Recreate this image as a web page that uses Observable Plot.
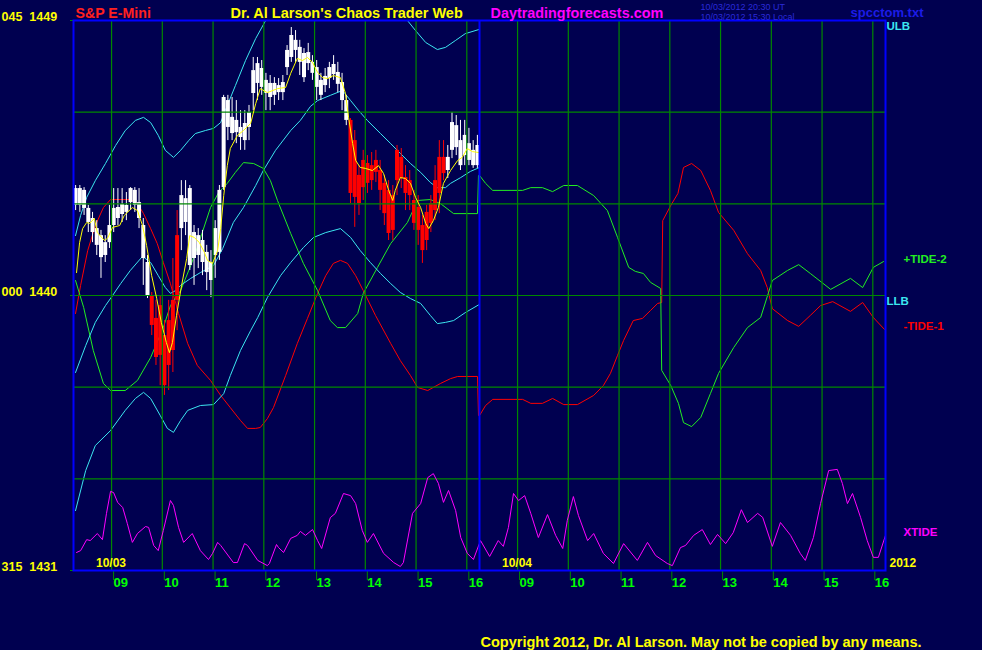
<!DOCTYPE html>
<html><head><meta charset="utf-8">
<script src="https://cdn.jsdelivr.net/npm/d3@7"></script>
<script src="https://cdn.jsdelivr.net/npm/@observablehq/plot@0.6"></script>
<style>
html,body{margin:0;padding:0;background:#000050;}
#chart{width:982px;height:650px;overflow:hidden;}
</style></head><body><div id="chart"></div>
<script>
// ---------- axis / tick data ----------
const xTicks = [9,10,11,12,13,14,15,16,17,18,19,20,21,22,23,24];
const hourLabels = ["09","10","11","12","13","14","15","16","09","10","11","12","13","14","15","16"];
const gridPrices = [1434,1437,1440,1443,1446];
const yTicks = [1431,1440,1449];
const yDegLabels = ["315","000","045"];
const dayStarts = [8.25,16.25];
const dayLabels = ["10/03","10/04"];
const yearLabel = "2012";

// ---------- 5-minute bars, day 1 (08:15-16:15) ----------
const barOpen = [1442.95,1442.95,1442.85,1442.39,1442.06,1441.64,1441.24,1441.31,1441.73,1442.29,1442.52,1442.65,1442.72,1443.04,1442.95,1442.52,1441.21,1440.00,1440.00,1439.25,1439.67,1438.69,1439.18,1439.84,1441.96,1442.19,1442.39,1440.98,1441.21,1441.31,1441.08,1440.75,1440.49,1441.31,1441.41,1443.53,1445.50,1445.30,1445.33,1445.17,1445.07,1445.50,1446.61,1446.94,1446.81,1446.61,1446.48,1446.55,1446.64,1446.64,1447.46,1447.79,1448.02,1447.63,1447.13,1447.59,1447.27,1446.81,1446.55,1446.87,1447.10,1447.23,1446.91,1446.38,1445.73,1445.73,1445.07,1443.93,1444.42,1444.32,1444.25,1444.42,1444.09,1443.67,1443.44,1443.27,1444.75,1444.52,1443.86,1443.76,1443.11,1442.88,1442.29,1442.72,1443.01,1443.76,1444.52,1444.52,1444.09,1444.75,1444.84,1444.25,1444.58,1444.42,1444.25,1444.25];
const barHigh = [1443.60,1443.60,1443.53,1442.95,1442.72,1442.45,1442.13,1441.96,1442.95,1443.50,1443.50,1443.50,1443.37,1443.53,1443.53,1443.50,1442.52,1441.31,1440.10,1439.84,1440.00,1439.18,1439.84,1441.21,1442.78,1443.76,1443.76,1443.60,1442.29,1442.19,1442.13,1441.64,1441.47,1442.45,1443.60,1446.55,1446.55,1446.48,1446.38,1446.05,1446.05,1446.22,1447.79,1447.79,1447.69,1447.27,1447.20,1447.13,1447.10,1447.20,1448.18,1448.77,1448.67,1448.35,1448.08,1448.25,1447.85,1447.69,1447.27,1447.43,1447.63,1447.85,1447.63,1447.27,1446.55,1445.79,1445.40,1444.25,1444.75,1444.58,1444.68,1444.75,1444.42,1443.93,1443.76,1443.60,1444.91,1444.81,1444.25,1444.09,1443.44,1443.27,1442.62,1442.95,1443.27,1444.25,1445.07,1445.07,1444.91,1445.99,1445.89,1445.73,1445.73,1445.47,1445.07,1445.24];
const barLow = [1442.78,1442.72,1442.62,1442.06,1441.73,1441.31,1440.56,1441.08,1441.54,1442.06,1442.29,1442.39,1442.45,1442.78,1442.72,1442.19,1440.33,1439.90,1438.69,1437.71,1437.05,1436.73,1436.89,1437.48,1438.85,1441.47,1441.96,1440.82,1440.33,1440.88,1440.65,1440.16,1439.93,1440.56,1441.15,1443.44,1445.07,1445.07,1444.97,1444.75,1444.75,1445.07,1446.05,1446.38,1446.55,1446.05,1446.05,1446.22,1446.38,1446.38,1447.20,1447.63,1447.63,1447.20,1446.97,1447.36,1447.04,1446.38,1446.38,1446.64,1446.77,1447.04,1446.64,1446.05,1445.56,1443.01,1442.23,1442.62,1443.11,1443.34,1443.44,1443.70,1442.78,1442.29,1441.80,1441.80,1443.27,1443.50,1442.78,1442.78,1442.13,1441.64,1441.05,1441.47,1442.06,1442.45,1442.68,1443.76,1443.83,1444.48,1444.58,1444.09,1444.25,1444.25,1444.16,1444.16];
const barClose = [1443.50,1443.50,1443.44,1442.85,1442.52,1442.19,1441.96,1441.73,1442.29,1442.85,1442.88,1442.98,1442.95,1443.50,1443.44,1443.04,1442.29,1441.08,1439.02,1437.97,1438.04,1437.05,1437.71,1438.20,1439.84,1443.27,1443.17,1443.50,1442.06,1441.96,1441.80,1441.41,1441.08,1442.19,1443.44,1446.48,1446.38,1445.83,1445.73,1445.50,1445.63,1445.99,1447.36,1447.59,1447.43,1447.04,1446.94,1446.94,1446.87,1446.97,1448.02,1448.51,1448.35,1448.12,1447.92,1447.95,1447.63,1447.46,1447.04,1447.17,1447.46,1447.56,1447.30,1446.97,1446.38,1443.34,1443.21,1443.01,1443.53,1443.67,1443.76,1444.03,1443.44,1442.68,1442.03,1442.13,1443.76,1443.83,1443.34,1443.27,1442.36,1442.13,1441.47,1441.80,1442.36,1442.78,1443.34,1443.99,1444.52,1445.66,1445.56,1445.07,1445.24,1444.97,1444.75,1444.91];

// ---------- series: [hour, value]  (day 2 hours continue as 16.25 + ...) ----------
const priceAvg = [[8.31,1440.75],[8.37,1441.73],[8.43,1442.19],[8.51,1442.39],[8.57,1442.36],[8.66,1442.52],[8.72,1442.06],[8.86,1441.80],[8.92,1441.87],[9.02,1442.23],[9.16,1442.29],[9.25,1442.62],[9.41,1442.88],[9.51,1442.78],[9.61,1442.29],[9.69,1441.64],[9.79,1440.65],[9.89,1439.90],[9.98,1439.12],[10.08,1438.46],[10.14,1438.13],[10.20,1438.46],[10.28,1439.35],[10.38,1440.33],[10.48,1441.21],[10.54,1441.96],[10.63,1441.90],[10.73,1441.73],[10.83,1441.41],[10.89,1441.15],[10.99,1441.05],[11.09,1441.47],[11.15,1442.19],[11.21,1443.27],[11.28,1444.25],[11.34,1444.81],[11.48,1445.24],[11.60,1445.40],[11.74,1445.63],[11.84,1446.28],[11.93,1446.77],[12.07,1446.64],[12.27,1446.77],[12.43,1446.81],[12.53,1447.27],[12.66,1447.76],[12.76,1447.69],[12.86,1447.79],[12.96,1447.63],[13.06,1447.30],[13.16,1447.13],[13.26,1447.10],[13.37,1447.20],[13.51,1447.13],[13.61,1446.61],[13.67,1445.83],[13.75,1444.97],[13.81,1444.42],[13.90,1444.19],[14.00,1444.16],[14.14,1444.09],[14.26,1444.25],[14.36,1443.99],[14.46,1443.44],[14.54,1443.11],[14.59,1443.44],[14.69,1443.86],[14.79,1443.83],[14.89,1443.67],[14.99,1443.21],[15.09,1442.88],[15.19,1442.36],[15.25,1442.19],[15.34,1442.45],[15.44,1442.88],[15.54,1443.67],[15.68,1444.09],[15.82,1444.42],[15.91,1444.52],[16.01,1444.81],[16.11,1444.71],[16.23,1444.68]];

const ulb = [[8.29,1441.96],[8.39,1442.62],[8.51,1443.21],[8.68,1443.76],[8.88,1444.32],[9.08,1444.91],[9.27,1445.40],[9.47,1445.73],[9.63,1445.83],[9.77,1445.66],[9.92,1445.24],[10.06,1444.75],[10.22,1444.52],[10.36,1444.75],[10.52,1445.07],[10.65,1445.30],[10.85,1445.40],[11.01,1445.47],[11.15,1445.66],[11.24,1446.05],[11.44,1446.87],[11.64,1447.69],[11.84,1448.41],[12.09,1449.16],[12.53,1450.64],[13.31,1451.13],[14.10,1450.64],[14.69,1449.49],[14.83,1449.00],[14.99,1448.67],[15.19,1448.28],[15.42,1448.05],[15.58,1448.12],[15.78,1448.35],[15.97,1448.57],[16.25,1448.71]];

const midBand = [[8.29,1437.48],[8.49,1438.36],[8.68,1439.12],[8.88,1439.67],[9.02,1440.00],[9.18,1440.39],[9.37,1440.82],[9.61,1441.28],[9.77,1441.08],[9.92,1440.65],[10.06,1440.26],[10.16,1440.07],[10.26,1440.16],[10.36,1440.33],[10.56,1440.56],[10.75,1440.75],[11.01,1440.98],[11.19,1441.54],[11.40,1442.39],[11.60,1442.88],[11.84,1443.60],[11.99,1444.09],[12.23,1444.75],[12.53,1445.40],[12.72,1445.73],[12.92,1446.19],[13.06,1446.38],[13.31,1446.55],[13.55,1446.71],[13.71,1446.38],[13.87,1446.05],[14.04,1445.73],[14.30,1445.30],[14.50,1444.97],[14.69,1444.65],[14.89,1444.32],[15.09,1444.03],[15.28,1443.70],[15.42,1443.53],[15.58,1443.53],[15.68,1443.67],[15.88,1443.86],[16.07,1444.06],[16.25,1444.19]];

const llb = [[8.29,1432.96],[8.49,1434.27],[8.68,1435.09],[8.98,1435.58],[9.27,1436.24],[9.47,1436.63],[9.63,1436.83],[9.77,1436.63],[9.96,1436.07],[10.10,1435.65],[10.22,1435.52],[10.36,1435.91],[10.50,1436.24],[10.75,1436.40],[11.01,1436.43],[11.21,1436.79],[11.34,1437.38],[11.54,1438.20],[11.74,1438.85],[11.88,1439.28],[12.07,1439.93],[12.33,1440.65],[12.53,1441.08],[12.78,1441.57],[12.98,1441.90],[13.22,1442.06],[13.51,1442.19],[13.71,1441.90],[13.90,1441.47],[14.10,1441.08],[14.30,1440.72],[14.50,1440.39],[14.69,1440.10],[14.89,1439.90],[15.09,1439.74],[15.28,1439.35],[15.42,1439.08],[15.58,1439.12],[15.74,1439.18],[15.97,1439.44],[16.25,1439.71]];

const tide1 = [[8.29,1439.41],[8.39,1440.33],[8.53,1441.47],[8.68,1442.29],[8.84,1442.88],[8.98,1443.14],[9.37,1443.14],[9.51,1443.01],[9.63,1442.68],[9.77,1442.19],[9.90,1441.70],[10.02,1441.08],[10.16,1440.39],[10.32,1439.41],[10.50,1438.43],[10.69,1437.71],[10.95,1437.22],[11.15,1436.73],[11.34,1436.33],[11.54,1435.91],[11.68,1435.65],[11.84,1435.65],[11.93,1435.68],[12.07,1435.97],[12.19,1436.33],[12.43,1437.38],[12.66,1438.43],[12.86,1439.25],[13.06,1440.07],[13.22,1440.65],[13.37,1441.05],[13.51,1441.15],[13.65,1441.05],[13.81,1440.65],[13.96,1440.16],[14.20,1439.35],[14.50,1438.43],[14.69,1437.87],[14.89,1437.38],[15.03,1436.99],[15.23,1436.89],[15.48,1437.12],[15.68,1437.28],[15.82,1437.35],[16.21,1437.35],[16.23,1436.07],[16.25,1436.07],[16.37,1436.40],[16.51,1436.60],[17.10,1436.60],[17.26,1436.47],[17.49,1436.47],[17.69,1436.63],[17.91,1436.43],[18.18,1436.43],[18.50,1436.73],[18.69,1437.05],[18.83,1437.45],[18.97,1438.04],[19.09,1438.53],[19.28,1439.18],[19.46,1439.25],[19.62,1439.51],[19.76,1439.74],[19.84,1439.77],[19.86,1442.45],[20.02,1442.95],[20.16,1443.34],[20.27,1444.19],[20.43,1444.32],[20.61,1444.09],[20.80,1443.44],[20.96,1442.72],[21.26,1442.13],[21.53,1441.37],[21.79,1440.82],[21.92,1440.26],[22.02,1439.57],[22.32,1439.18],[22.54,1438.99],[22.77,1439.35],[22.97,1439.67],[23.21,1439.80],[23.56,1439.48],[23.80,1439.77],[24.01,1439.28],[24.23,1438.89]];

const tide2 = [[8.29,1440.49],[8.45,1439.61],[8.64,1438.20],[8.84,1437.12],[8.98,1436.89],[9.27,1436.89],[9.51,1437.22],[9.77,1437.97],[10.02,1438.95],[10.16,1439.67],[10.36,1440.16],[10.56,1440.98],[10.69,1441.57],[10.95,1442.88],[11.11,1443.37],[11.28,1443.67],[11.44,1444.03],[11.60,1444.35],[11.80,1444.32],[11.99,1444.16],[12.13,1443.76],[12.27,1443.11],[12.53,1442.03],[12.78,1441.05],[13.06,1440.16],[13.31,1439.18],[13.45,1438.95],[13.61,1438.95],[13.85,1439.41],[13.96,1440.07],[14.24,1440.92],[14.50,1441.70],[14.83,1442.39],[15.03,1443.11],[15.28,1443.14],[15.48,1443.01],[15.74,1442.68],[16.21,1442.68],[16.23,1443.93],[16.25,1443.93],[16.37,1443.67],[16.51,1443.44],[17.10,1443.44],[17.26,1443.53],[17.49,1443.53],[17.69,1443.40],[17.91,1443.60],[18.18,1443.60],[18.50,1443.27],[18.77,1442.78],[18.97,1441.90],[19.19,1440.92],[19.32,1440.79],[19.48,1440.72],[19.62,1440.43],[19.82,1440.23],[19.84,1437.55],[20.02,1437.05],[20.17,1436.47],[20.27,1435.84],[20.43,1435.71],[20.61,1436.01],[20.80,1436.79],[20.96,1437.45],[21.26,1438.30],[21.53,1438.95],[21.79,1439.28],[21.94,1440.07],[22.02,1440.49],[22.32,1440.82],[22.54,1441.01],[22.77,1440.72],[23.17,1440.20],[23.56,1440.56],[23.80,1440.26],[24.01,1440.92],[24.21,1441.11]];

const xtide = [[8.31,1431.59],[8.39,1431.65],[8.51,1432.01],[8.58,1431.98],[8.72,1432.21],[8.82,1432.01],[8.90,1432.87],[8.98,1433.59],[9.04,1433.55],[9.12,1433.23],[9.22,1433.06],[9.31,1432.54],[9.41,1431.92],[9.51,1432.21],[9.67,1432.44],[9.73,1432.41],[9.83,1431.82],[9.92,1431.65],[10.02,1432.31],[10.16,1433.29],[10.22,1433.13],[10.32,1432.41],[10.42,1431.92],[10.59,1432.21],[10.75,1431.65],[10.91,1431.36],[10.99,1431.56],[11.09,1431.92],[11.15,1431.82],[11.40,1431.26],[11.48,1431.26],[11.62,1431.88],[11.68,1431.82],[11.88,1431.33],[12.07,1431.16],[12.11,1431.23],[12.25,1431.85],[12.29,1431.75],[12.39,1431.59],[12.53,1432.05],[12.66,1432.15],[12.72,1432.28],[12.82,1432.15],[12.96,1432.34],[13.06,1431.98],[13.14,1431.72],[13.31,1432.73],[13.41,1432.87],[13.57,1433.52],[13.71,1433.45],[13.81,1433.19],[13.94,1432.31],[14.04,1431.92],[14.16,1432.21],[14.36,1431.56],[14.56,1431.26],[14.69,1431.13],[14.75,1431.26],[14.93,1432.87],[15.09,1433.19],[15.23,1434.04],[15.34,1434.17],[15.44,1433.85],[15.54,1433.23],[15.64,1433.62],[15.78,1432.96],[15.88,1432.08],[16.01,1431.56],[16.13,1431.36],[16.27,1431.98],[16.45,1431.46],[16.62,1431.98],[16.72,1431.79],[16.82,1432.41],[16.92,1433.52],[17.02,1433.29],[17.14,1433.45],[17.26,1432.87],[17.41,1432.08],[17.59,1432.83],[17.75,1432.15],[17.89,1431.72],[17.98,1432.64],[18.10,1433.42],[18.20,1432.80],[18.38,1431.98],[18.50,1432.21],[18.69,1431.56],[18.89,1431.23],[19.09,1431.88],[19.36,1431.33],[19.56,1431.92],[19.72,1431.49],[19.95,1431.23],[20.05,1431.16],[20.21,1431.75],[20.31,1431.82],[20.47,1432.15],[20.64,1432.34],[20.80,1431.85],[20.94,1432.18],[21.10,1431.88],[21.25,1432.24],[21.41,1432.99],[21.53,1432.57],[21.73,1432.87],[21.83,1432.74],[22.02,1431.79],[22.18,1432.57],[22.38,1432.15],[22.57,1431.56],[22.67,1431.33],[22.83,1432.08],[22.97,1433.19],[23.13,1434.27],[23.30,1434.31],[23.40,1433.85],[23.50,1433.19],[23.60,1433.52],[23.76,1432.73],[23.89,1431.98],[24.01,1431.43],[24.11,1431.43],[24.25,1432.15]];

// ---------- styling ----------
const BG = "#000050", GRID = "#008800", FRAME = "#0000ff";
const CYAN = "#3ce6f0", RED = "#ff0000", GREEN = "#22ee22", MAG = "#ff00ff", YEL = "#ffff00";
const FONT = "'Liberation Sans', Arial, sans-serif";

const bars = barOpen.map((o, i) => ({
  t: 8.25 + (i + 0.5) / 12, open: o, close: barClose[i], high: barHigh[i], low: barLow[i]
}));
const barColor = d => d.close >= d.open ? "#ffffff" : RED;

const seriesLabel = (series, text, fill, dx) =>
  Plot.text([series[series.length - 1]], {
    y: d => d[1], frameAnchor: "right", text: () => text, fill, dx, dy: 1,
    textAnchor: "start", lineAnchor: "bottom", fontSize: 11.5, fontWeight: "bold"
  });

const titleText = (text, fill, dx, dy, size, weight = "bold", anchor = "top-left") =>
  Plot.text([text], {
    text: d => d, frameAnchor: anchor, fill, dx, dy, fontSize: size, fontWeight: weight,
    textAnchor: "start", lineAnchor: "bottom"
  });

const chart = Plot.plot({
  width: 982, height: 650,
  marginTop: 20, marginBottom: 80, marginLeft: 73, marginRight: 97,
  style: {background: BG, fontFamily: FONT, overflow: "visible"},
  x: {domain: [8.25, 24.25], axis: null},
  y: {domain: [1431, 1449], axis: null},
  color: {type: "identity"},
  marks: [
    // tides
    Plot.line(tide1, {x: d => d[0], y: d => d[1], stroke: RED, strokeWidth: 1}),
    Plot.line(tide2, {x: d => d[0], y: d => d[1], stroke: GREEN, strokeWidth: 1}),
    // bands
    Plot.line(ulb, {x: d => d[0], y: d => d[1], stroke: CYAN, strokeWidth: 1, clip: true}),
    Plot.line(midBand, {x: d => d[0], y: d => d[1], stroke: CYAN, strokeWidth: 1}),
    Plot.line(llb, {x: d => d[0], y: d => d[1], stroke: CYAN, strokeWidth: 1}),
    // bars
    Plot.ruleX(bars, {x: "t", y1: "low", y2: "high", stroke: barColor, strokeWidth: 1}),
    Plot.ruleX(bars, {x: "t", y1: "open", y2: "close", stroke: barColor, strokeWidth: 4}),
    // grid over the bars
    Plot.gridY(gridPrices, {stroke: GRID, strokeOpacity: 1, strokeWidth: 1.2}),
    Plot.gridX(xTicks, {stroke: GRID, strokeOpacity: 1, strokeWidth: 1.2}),
    Plot.axisX(xTicks, {
      anchor: "bottom", tickSize: 10, tickPadding: -3, stroke: GRID, fill: "#00ff00",
      tickFormat: d => hourLabels[xTicks.indexOf(d)], textAnchor: "start", dx: 2,
      fontSize: 13, fontWeight: "bold", label: null
    }),
    Plot.axisY(yTicks, {anchor: "left", tickSize: 3, stroke: GRID, tickFormat: () => "", label: null}),
    Plot.text(yTicks, {
      y: d => d, text: (d) => yDegLabels[yTicks.indexOf(d)] + "\u00a0\u00a0" + d,
      frameAnchor: "left", dx: -72, textAnchor: "start", lineAnchor: "bottom",
      fill: YEL, fontSize: 12.5, fontWeight: "bold"
    }),
    // average
    Plot.line(priceAvg, {x: d => d[0], y: d => d[1], stroke: YEL, strokeWidth: 1}),
    // xtide
    Plot.line(xtide, {x: d => d[0], y: d => d[1], stroke: MAG, strokeWidth: 1}),
    // frame and day divider
    Plot.ruleX([dayStarts[1]], {stroke: FRAME, strokeWidth: 2}),
    Plot.frame({stroke: FRAME, strokeWidth: 2}),
    // series labels
    seriesLabel(ulb, "ULB", CYAN, 1),
    seriesLabel(tide2, "+TIDE-2", GREEN, 18),
    seriesLabel(llb, "LLB", CYAN, 1),
    seriesLabel(tide1, "-TIDE-1", RED, 18),
    seriesLabel(xtide, "XTIDE", MAG, 18),
    // date labels
    Plot.text(dayStarts, {x: d => d, text: (d) => dayLabels[dayStarts.indexOf(d)], frameAnchor: "bottom",
      dx: 22.5, dy: -4, textAnchor: "start", lineAnchor: "bottom", fill: YEL, fontSize: 12, fontWeight: "bold"}),
    titleText(yearLabel, YEL, 4, -4, 12, "bold", "bottom-right"),
    // titles
    titleText("S&P E-Mini", "#ff2020", 2, -3, 14.2),
    titleText("Dr. Al Larson's Chaos Trader Web", YEL, 157, -3, 14.5),
    titleText("Daytradingforecasts.com", MAG, 417, -3, 14.4),
    titleText("10/03/2012 20:30 UT", "#2a2ad8", 627, -10.5, 9, "normal"),
    titleText("10/03/2012 15:30 Local", "#2a2ad8", 627, -1, 9, "normal"),
    titleText("spcctom.txt", "#1c1ce6", 777, -4, 13),
    titleText("Copyright 2012, Dr. Al Larson. May not be copied by any means.", YEL, 407, 76, 14.5, "bold", "bottom-left")
  ]
});
document.getElementById("chart").appendChild(chart);
</script>
</body></html>
